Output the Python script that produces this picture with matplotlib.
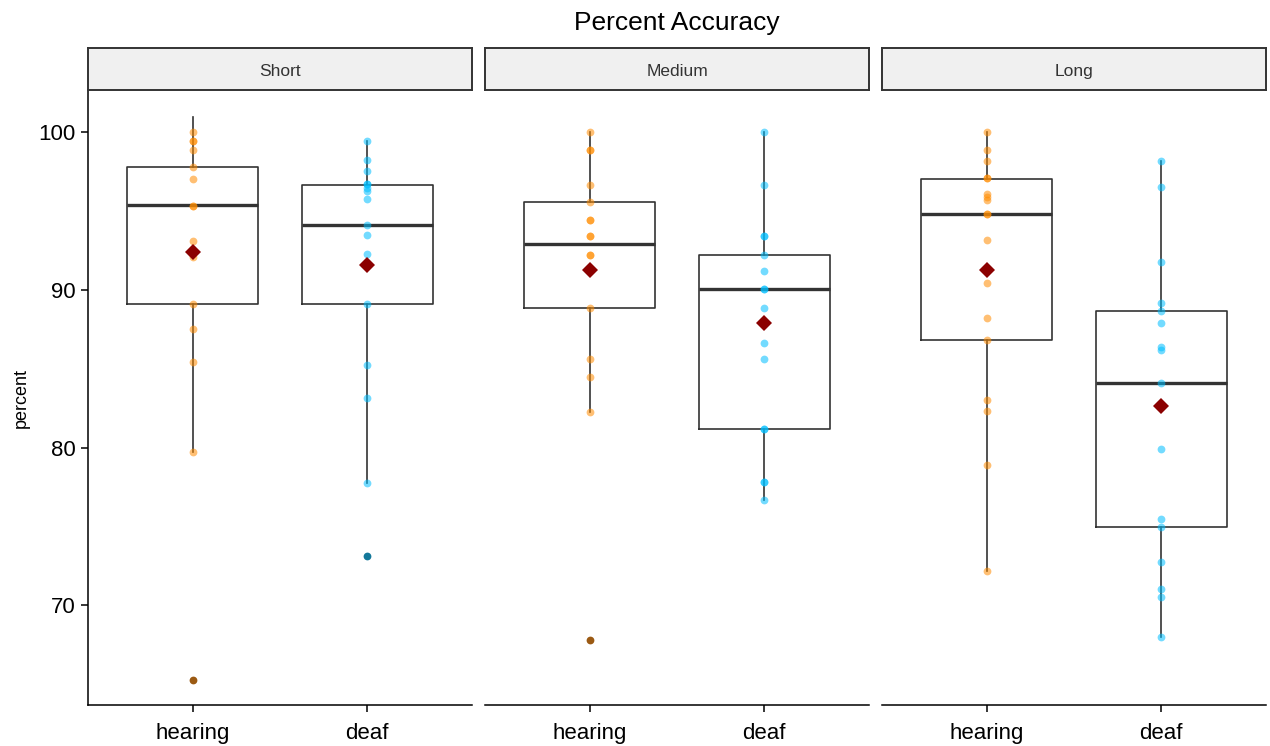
import matplotlib
matplotlib.use("Agg")
import matplotlib.pyplot as plt

plt.rcParams['font.family'] = ['Liberation Sans', 'DejaVu Sans']

panels = ["Short", "Medium", "Long"]
groups = ["hearing", "deaf"]

# points (non-outlier observations) per panel / group
points = {
    ("Short", "hearing"): [100.0, 99.42, 99.42, 98.84, 97.77, 97.02, 95.34, 95.34, 93.09, 92.07, 89.09, 87.51, 85.42, 79.75],
    ("Short", "deaf"): [99.42, 98.25, 97.50, 96.68, 96.68, 96.43, 96.24, 95.78, 94.11, 93.48, 92.24, 89.09, 85.23, 83.14, 77.76],
    ("Medium", "hearing"): [100.0, 98.86, 98.86, 96.63, 95.59, 94.42, 94.42, 93.38, 93.38, 92.21, 92.21, 88.87, 85.59, 84.45, 82.25],
    ("Medium", "deaf"): [100.0, 96.63, 93.38, 93.38, 92.21, 91.17, 90.03, 90.03, 88.87, 86.66, 85.59, 81.20, 81.20, 77.83, 77.83, 76.67],
    ("Long", "hearing"): [100.0, 98.84, 98.18, 97.07, 97.07, 96.07, 95.88, 95.68, 94.79, 94.79, 93.18, 90.42, 88.19, 86.85, 83.02, 82.34, 78.87, 72.18],
    ("Long", "deaf"): [98.18, 96.53, 91.75, 89.16, 88.67, 87.92, 86.37, 86.18, 84.07, 79.94, 75.46, 74.97, 72.74, 71.04, 70.53, 68.03],
}
outliers = {
    ("Short", "hearing"): [65.3],
    ("Short", "deaf"): [73.13],
    ("Medium", "hearing"): [67.84],
    ("Medium", "deaf"): [],
    ("Long", "hearing"): [],
    ("Long", "deaf"): [],
}

# box statistics
box_q1 = [89.09, 89.09, 88.87, 81.20, 86.85, 74.97]
box_med = [95.37, 94.11, 92.87, 90.08, 94.79, 84.11]
box_q3 = [97.80, 96.63, 95.56, 92.21, 97.02, 88.67]
box_wlo = [79.75, 77.76, 82.25, 76.67, 72.18, 68.03]
box_whi = [100.92, 99.42, 100.0, 100.0, 100.0, 98.18]
means = [92.38, 91.54, 91.27, 87.90, 91.27, 82.61]

point_colors = {"hearing": "#FF8C00", "deaf": "#00BFFF"}
outlier_colors = {"hearing": "#9B5A13", "deaf": "#13789A"}

W, H = 1270, 746
fig = plt.figure(figsize=(W / 100, H / 100), dpi=100)

panel_left_px = [88, 485, 882]
panel_w_px = 384
top_px, bottom_px = 90, 705
strip_top_px = 48

ylim = (63.69, 102.66)
line_col = "#333333"

for pi, pname in enumerate(panels):
    l = panel_left_px[pi] / W
    b = 1 - bottom_px / H
    w = panel_w_px / W
    h = (bottom_px - top_px) / H
    ax = fig.add_axes([l, b, w, h])
    ax.set_xlim(0.4, 2.6)
    ax.set_ylim(*ylim)

    stats = []
    for gi, g in enumerate(groups):
        k = pi * 2 + gi
        stats.append(dict(whislo=box_wlo[k], q1=box_q1[k], med=box_med[k],
                          q3=box_q3[k], whishi=box_whi[k], fliers=[]))
    ax.bxp(stats, positions=[1, 2], widths=0.75, showfliers=False,
           boxprops=dict(color=line_col, linewidth=1.2),
           whiskerprops=dict(color=line_col, linewidth=1.2),
           capprops=dict(linewidth=0),
           medianprops=dict(color=line_col, linewidth=2.4),
           zorder=2)

    for gi, g in enumerate(groups):
        k = pi * 2 + gi
        vals = points[(pname, g)]
        ax.plot([gi + 1] * len(vals), vals, 'o', color=point_colors[g],
                alpha=0.55, markersize=5.6, markeredgewidth=0, zorder=3)
        ov = outliers[(pname, g)]
        if ov:
            ax.plot([gi + 1] * len(ov), ov, 'o', color=outlier_colors[g],
                    markersize=5.6, markeredgewidth=0, zorder=3)
        ax.plot([gi + 1], [means[k]], 'D', color="#8B0000", markersize=8,
                markeredgewidth=0, zorder=4)

    for s in ["top", "right"]:
        ax.spines[s].set_visible(False)
    ax.spines["bottom"].set_color("black")
    ax.spines["bottom"].set_linewidth(1.1)
    ax.set_xticks([1, 2])
    ax.set_xticklabels(groups, fontsize=16, color="black")
    ax.tick_params(axis="x", length=5, width=1.1, color="black", pad=8)
    if pi == 0:
        ax.spines["left"].set_color("black")
        ax.spines["left"].set_linewidth(1.1)
        ax.set_yticks([70, 80, 90, 100])
        ax.set_yticklabels(["70", "80", "90", "100"], fontsize=16, color="black")
        ax.tick_params(axis="y", length=5, width=1.1, color="black", pad=4)
        ax.set_ylabel("percent", fontsize=13, labelpad=6)
    else:
        ax.spines["left"].set_visible(False)
        ax.set_yticks([])

    # strip
    sax = fig.add_axes([l, 1 - top_px / H, w, (top_px - strip_top_px) / H])
    sax.set_xticks([])
    sax.set_yticks([])
    sax.set_facecolor("#F0F0F0")
    for s in sax.spines.values():
        s.set_color(line_col)
        s.set_linewidth(1.4)
    sax.text(0.5, 0.44, pname, ha="center", va="center", fontsize=12.5,
             color="#333333", transform=sax.transAxes)

fig.text(677 / W, 1 - 23 / H, "Percent Accuracy", ha="center", va="center",
         fontsize=19, color="black")

fig.savefig("out.png", dpi=100)
